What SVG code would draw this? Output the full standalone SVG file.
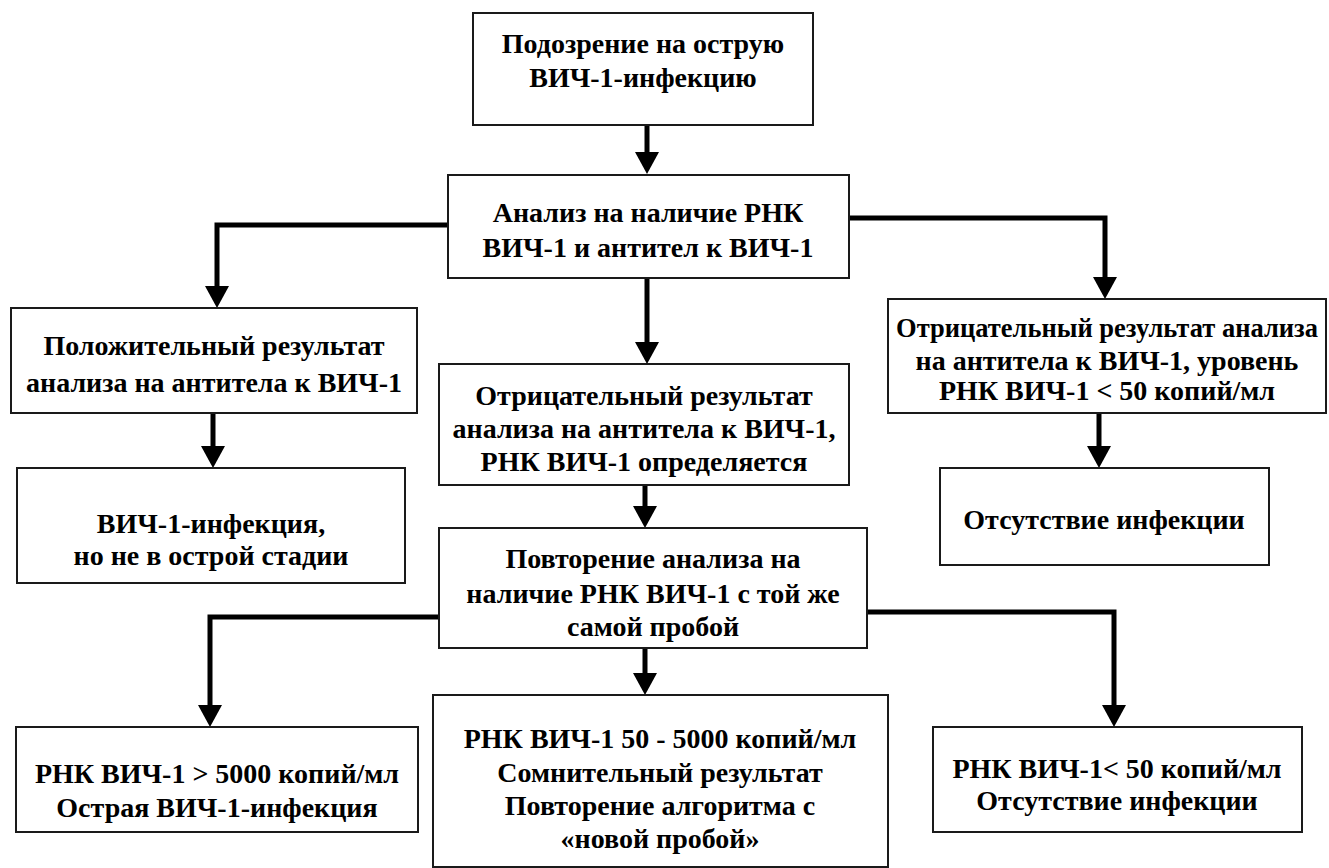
<svg xmlns="http://www.w3.org/2000/svg" width="1329" height="868" viewBox="0 0 1329 868">
  <style>
    .box { fill: #ffffff; stroke: #1a1a1a; stroke-width: 2; }
    .conn { fill: none; stroke: #000; stroke-width: 5; marker-end: url(#head); }
  </style>
  <defs>
    <marker id="head" markerUnits="userSpaceOnUse" markerWidth="30" markerHeight="24" refX="0" refY="12" orient="auto" viewBox="0 0 22 24">
      <path d="M0,0 L22,12 L0,24 Z" fill="#000"/>
    </marker>
  </defs>
  <rect width="1329" height="868" fill="#ffffff"/>

  <!-- connectors -->
  <g id="connectors">
    <path class="conn" d="M647,125 V152"/>
    <path class="conn" d="M448,225 H217 V286"/>
    <path class="conn" d="M849,218 H1105 V277"/>
    <path class="conn" d="M647,278 V342"/>
    <path class="conn" d="M213,413 V446"/>
    <path class="conn" d="M1099,413 V446"/>
    <path class="conn" d="M645,485 V506"/>
    <path class="conn" d="M439,617 H210 V705"/>
    <path class="conn" d="M867,612 H1114 V705"/>
    <path class="conn" d="M645,648 V673"/>
  </g>

  <g id="nodes" font-family="Liberation Serif, DejaVu Serif, serif" font-weight="bold" font-size="28" fill="#000" text-anchor="middle">
  <g id="suspicion">
    <rect class="box" x="473" y="13" width="340" height="112"/>
    <text x="643" y="53">Подозрение на острую</text>
    <text x="643" y="87">ВИЧ-1-инфекцию</text>
  </g>

  <g id="test">
    <rect class="box" x="448" y="175" width="401" height="103"/>
    <text x="648" y="222">Анализ на наличие РНК</text>
    <text x="648" y="257">ВИЧ-1 и антител к ВИЧ-1</text>
  </g>

  <g id="positive">
    <rect class="box" x="11" y="308" width="406" height="105"/>
    <text x="214" y="355">Положительный результат</text>
    <text x="214" y="392">анализа на антитела к ВИЧ-1</text>
  </g>

  <g id="chronic">
    <rect class="box" x="17" y="468" width="388" height="115"/>
    <text x="211" y="533">ВИЧ-1-инфекция,</text>
    <text x="211" y="565">но не в острой стадии</text>
  </g>

  <g id="negative-rna">
    <rect class="box" x="439" y="364" width="410" height="121"/>
    <text x="644" y="405">Отрицательный результат</text>
    <text x="644" y="438">анализа на антитела к ВИЧ-1,</text>
    <text x="644" y="471">РНК ВИЧ-1 определяется</text>
  </g>

  <g id="negative-all">
    <rect class="box" x="888" y="299" width="438" height="114"/>
    <text x="1107" y="337" font-size="26.5">Отрицательный результат анализа</text>
    <text x="1107" y="370">на антитела к ВИЧ-1, уровень</text>
    <text x="1107" y="400">РНК ВИЧ-1 &lt; 50 копий/мл</text>
  </g>

  <g id="no-infection">
    <rect class="box" x="940" y="468" width="329" height="97"/>
    <text x="1104" y="529">Отсутствие инфекции</text>
  </g>

  <g id="repeat">
    <rect class="box" x="439" y="528" width="428" height="120"/>
    <text x="653" y="568">Повторение анализа на</text>
    <text x="653" y="603">наличие РНК ВИЧ-1 с той же</text>
    <text x="653" y="636">самой пробой</text>
  </g>

  <g id="acute">
    <rect class="box" x="16" y="727" width="402" height="105"/>
    <text x="217" y="783">РНК ВИЧ-1 &gt; 5000 копий/мл</text>
    <text x="217" y="817">Острая ВИЧ-1-инфекция</text>
  </g>

  <g id="doubtful">
    <rect class="box" x="433" y="695" width="455" height="172"/>
    <text x="660" y="748">РНК ВИЧ-1 50 - 5000 копий/мл</text>
    <text x="660" y="782">Сомнительный результат</text>
    <text x="660" y="815">Повторение алгоритма с</text>
    <text x="660" y="848">«новой пробой»</text>
  </g>

  <g id="negative-final">
    <rect class="box" x="933" y="727" width="369" height="105"/>
    <text x="1117" y="778">РНК ВИЧ-1&lt; 50 копий/мл</text>
    <text x="1117" y="810">Отсутствие инфекции</text>
  </g>
  </g>
</svg>
